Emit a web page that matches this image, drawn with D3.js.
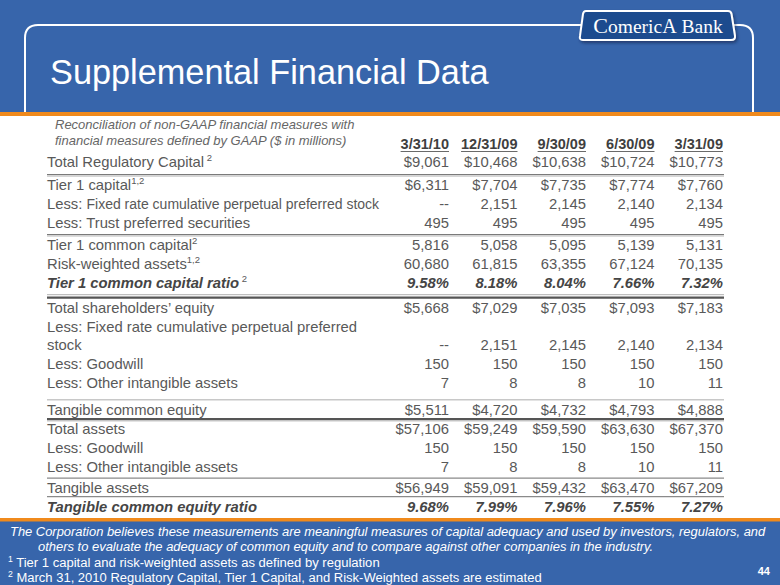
<!DOCTYPE html>
<html><head><meta charset="utf-8">
<script src="https://cdn.jsdelivr.net/npm/d3@7"></script>
<style>
html,body{margin:0;padding:0;background:#fff;}
svg{display:block;font-family:"Liberation Sans",Arial,sans-serif;}
</style></head>
<body>
<svg id="chart" width="780" height="585"></svg>
<script>
// ---------- DATA ----------
const periods = ["3/31/10", "12/31/09", "9/30/09", "6/30/09", "3/31/09"];
const rowLabels = [
  "Total Regulatory Capital",
  "Tier 1 capital",
  "Less: |Fixed rate cumulative perpetual preferred stock",
  "Less: Trust preferred securities",
  "Tier 1 common capital",
  "Risk-weighted assets",
  "Tier 1 common capital ratio",
  "Total shareholders\u2019 equity",
  "Less: Fixed rate cumulative perpetual preferred\nstock",
  "Less: Goodwill",
  "Less: Other intangible assets",
  "Tangible common equity",
  "Total assets",
  "Less: Goodwill",
  "Less: Other intangible assets",
  "Tangible assets",
  "Tangible common equity ratio"
];
const rowSups = [" 2", "1,2", "", "", "2", "1,2", " 2", "", "", "", "", "", "", "", "", "", ""];
const rowKinds = ["dollar","dollar","number","number","number","number","pct","dollar","number","number","number","dollar","dollar","number","number","dollar","pct"];
const mar2010 = [9061, 6311, null, 495, 5816, 60680, 9.58, 5668, null, 150, 7, 5511, 57106, 150, 7, 56949, 9.68];
const dec2009 = [10468, 7704, 2151, 495, 5058, 61815, 8.18, 7029, 2151, 150, 8, 4720, 59249, 150, 8, 59091, 7.99];
const sep2009 = [10638, 7735, 2145, 495, 5095, 63355, 8.04, 7035, 2145, 150, 8, 4732, 59590, 150, 8, 59432, 7.96];
const jun2009 = [10724, 7774, 2140, 495, 5139, 67124, 7.66, 7093, 2140, 150, 10, 4793, 63630, 150, 10, 63470, 7.55];
const mar2009 = [10773, 7760, 2134, 495, 5131, 70135, 7.32, 7183, 2134, 150, 11, 4888, 67370, 150, 11, 67209, 7.27];
const seriesValues = [mar2010, dec2009, sep2009, jun2009, mar2009];

const titleText = "Supplemental Financial Data";
const noteLines = ["Reconciliation of non-GAAP financial measures with",
                   "financial measures defined by GAAP ($ in millions)"];
const footLines = [
  "The Corporation believes these measurements are meaningful measures of capital adequacy and used by investors, regulators, and",
  "others to evaluate the adequacy of common equity and to compare against other companies in the industry."
];
const footNotes = [["1", " Tier 1 capital and risk-weighted assets as defined by regulation"],
                   ["2", " March 31, 2010 Regulatory Capital, Tier 1 Capital, and Risk-Weighted assets are estimated"]];
const pageNumber = "44";

// ---------- LAYOUT ----------
const BLUE = "#3765ab", ORANGE = "#f08a1c", TXT = "#595959", HDR = "#3f3f3f";
const svg = d3.select("#chart");
const defs = svg.append("defs");
const f = defs.append("filter").attr("id","sh").attr("x","-10%").attr("y","-20%").attr("width","130%").attr("height","160%");
f.append("feDropShadow").attr("dx",1.5).attr("dy",2).attr("stdDeviation",1.5).attr("flood-color","#0a1f45").attr("flood-opacity",0.6);

// backgrounds
svg.append("rect").attr("x",0).attr("y",0).attr("width",780).attr("height",116).attr("fill",BLUE);
svg.append("rect").attr("x",0).attr("y",518).attr("width",780).attr("height",67).attr("fill",BLUE);
svg.append("rect").attr("x",0).attr("y",112).attr("width",780).attr("height",4).attr("fill",ORANGE);
svg.append("rect").attr("x",0).attr("y",518).attr("width",780).attr("height",3.5).attr("fill",ORANGE);

// frame
svg.append("path").attr("d","M25,112 V38 Q25,25 38,25 H740 Q753,25 753,38 V112")
  .attr("fill","none").attr("stroke","#fff").attr("stroke-width",2);

// logo
svg.append("path").attr("d","M586,11 L728,11 Q731,11 731.5,14 L735,36 Q735.5,40 731,40 L583,40 Q579,40 580,36 L583,14 Q583.5,11 586,11 Z")
  .attr("fill","#1f4b8e").attr("stroke","#fff").attr("stroke-width",2).attr("filter","url(#sh)");
const logo = svg.append("text").attr("x",658).attr("y",32.5).attr("text-anchor","middle")
  .attr("fill","#fff").attr("font-family","'Liberation Serif','DejaVu Serif',serif").attr("font-size",19.5);
logo.append("tspan").text("C").attr("font-size",22);
logo.append("tspan").text("omeric");
logo.append("tspan").text("A").attr("font-size",20);
logo.append("tspan").text(" Bank");

// title
svg.append("text").attr("x",50).attr("y",84).attr("fill","#fff").attr("font-size",34.3).text(titleText);

// note
svg.selectAll("text.note").data(noteLines).join("text").attr("class","note")
  .attr("x",55).attr("y",(d,i)=>129+i*15.5).attr("font-size",13).attr("font-style","italic")
  .attr("fill","#666").text(d=>d);

// scales
const x = d3.scalePoint().domain(periods).range([449, 723]);
const lineH = 18.8;
const y = d3.scaleLinear().domain([0,1]).range([167, 167+lineH]);
// separators: before which row, style, extra space (px)
const seps = [
  {before:1, style:"double", extra:4.4},
  {before:4, style:"double", extra:3.5},
  {before:7, style:"thick", extra:6.2},
  {before:11, style:"light", extra:8},
  {before:12, style:"heavy", extra:0.6},
  {before:15, style:"single", extra:2.6},
  {before:16, style:"single", extra:-0.3}
];
// compute slot positions
const rows = [];
let slot = 0;
rowLabels.forEach((lab,i)=>{
  const s = seps.find(d=>d.before===i);
  if (i>0) slot += 1 + (s ? s.extra/lineH : 0);
  const lines = lab.split("\n");
  rows.push({i, lines, top: slot, valueSlot: slot + lines.length - 1, sup: rowSups[i], kind: rowKinds[i]});
  slot += lines.length - 1;
});

// header
const hdr = svg.selectAll("g.hdr").data(periods).join("g").attr("class","hdr");
hdr.append("text").attr("x",d=>x(d)).attr("y",149).attr("text-anchor","end")
  .attr("font-size",14.5).attr("font-weight","bold").attr("fill",HDR).text(d=>d)
  .each(function(d){
    const w = this.getComputedTextLength();
    d3.select(this.parentNode).append("line").attr("x1",x(d)-w).attr("x2",x(d))
      .attr("y1",151.5).attr("y2",151.5).attr("stroke","#6a6a6a").attr("stroke-width",1);
  });

// separators
const X0 = 47, X1 = 724;
seps.forEach(s=>{
  const r = rows[s.before];
  const yy = y(r.top) - 15;
  const g = svg.append("g");
  const ln = (yv, c, w) => g.append("line").attr("x1",X0).attr("x2",X1).attr("y1",yv).attr("y2",yv).attr("stroke",c).attr("stroke-width",w);
  if (s.style==="double"){
    ln(yy-0.5, "#7a7a7a", 1.2); ln(yy+1, "#c4c4c4", 1);
  } else if (s.style==="thick"){
    ln(yy-3, "#b0b0b0", 1); ln(yy, "#555", 2.2);
  } else if (s.style==="heavy"){
    ln(yy, "#555", 2.2); ln(yy+1.8, "#b8b8b8", 1);
  } else if (s.style==="light"){
    ln(yy, "#c8c8c8", 1.5);
  } else {
    ln(yy, "#8a8a8a", 1.4);
  }
});

// labels
const fmtN = d3.format(",");
function fmt(v, kind){
  if (v===null) return "--";
  if (kind==="pct") return d3.format(".2f")(v)+"%";
  if (kind==="dollar") return "$"+fmtN(v);
  return fmtN(v);
}
rows.forEach(r=>{
  const bold = r.kind==="pct";
  r.lines.forEach((ln,k)=>{
    const t = svg.append("text").attr("x",X0).attr("y",y(r.top+k)).attr("font-size",14.8)
      .attr("fill",bold?"#454545":TXT)
      .attr("font-weight",bold?"bold":null).attr("font-style",bold?"italic":null);
    if (ln.includes("|")){
      const [a,b] = ln.split("|");
      t.append("tspan").text(a);
      t.append("tspan").attr("font-size",14).text(b);
    } else t.append("tspan").text(ln);
    if (k===r.lines.length-1 && r.sup){
      t.append("tspan").attr("font-size",9.5).attr("dy",-6).attr("font-weight","normal").attr("font-style","normal").attr("fill",TXT).text(r.sup);
    }
  });
});

// values
periods.forEach((p,ci)=>{
  const vals = seriesValues[ci];
  svg.append("g").selectAll("text").data(rows).join("text")
    .attr("x",x(p)).attr("y",r=>y(r.valueSlot)).attr("text-anchor","end")
    .attr("font-size",14.8)
    .attr("fill",r=>r.kind==="pct"?"#454545":TXT)
    .attr("font-weight",r=>r.kind==="pct"?"bold":null)
    .attr("font-style",r=>r.kind==="pct"?"italic":null)
    .text(r=>fmt(vals[r.i], r.kind));
});

// footer (condensed lines, scaled horizontally to fit)
const footSpec = [{x:10, y:536, w:756}, {x:38, y:551, w:616}];
footLines.forEach((txt,i)=>{
  const sp = footSpec[i];
  const g = svg.append("g");
  const t = g.append("text").attr("x",0).attr("y",0).attr("fill","#fff")
    .attr("font-size",13.5).attr("font-style","italic").text(txt);
  const nat = t.node().getComputedTextLength();
  g.attr("transform",`translate(${sp.x},${sp.y}) scale(${sp.w/nat},1)`);
});
const noteSpec = [{y:567, w:372}, {y:582, w:534}];
footNotes.forEach((fn,i)=>{
  const g = svg.append("g");
  const t = g.append("text").attr("x",0).attr("y",0).attr("fill","#fff").attr("font-size",13.5);
  t.append("tspan").attr("font-size",9).attr("dy",-5).text(fn[0]);
  t.append("tspan").attr("dy",5).text(fn[1]);
  const nat = t.node().getComputedTextLength();
  g.attr("transform",`translate(8,${noteSpec[i].y}) scale(${noteSpec[i].w/nat},1)`);
});
svg.append("text").attr("x",770).attr("y",575).attr("text-anchor","end").attr("fill","#fff")
  .attr("font-size",11).attr("font-weight","bold").text(pageNumber);
</script>
</body></html>
